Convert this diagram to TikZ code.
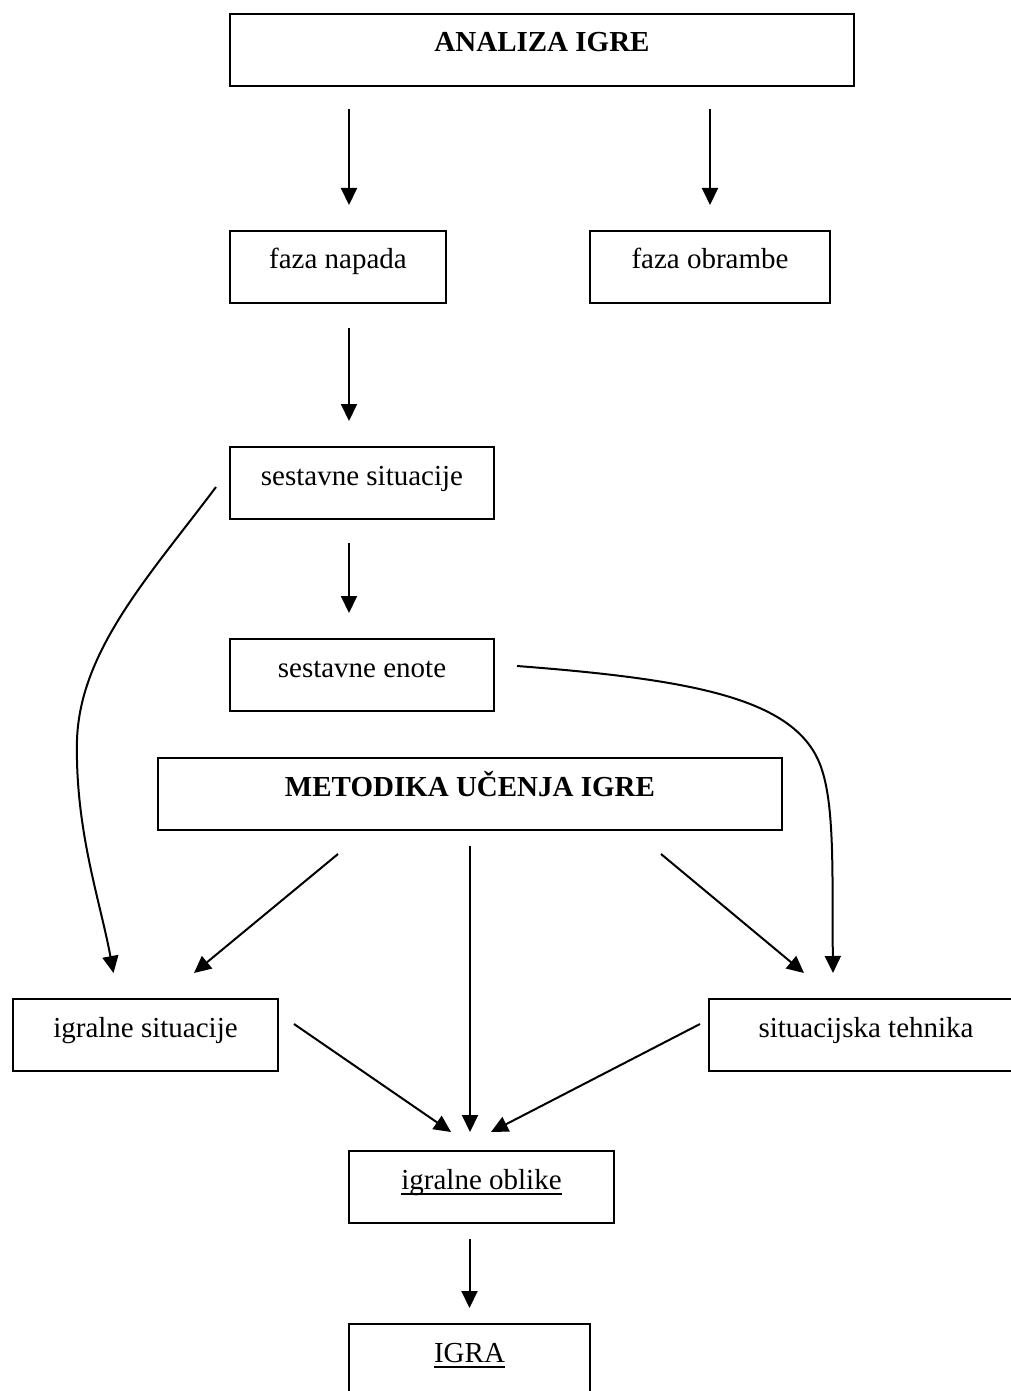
\documentclass[tikz,border=0pt]{standalone}
\usepackage{fontspec}
\setmainfont{Liberation Serif}
\newcommand{\ulword}[1]{\setbox0\hbox{#1}\rlap{\rule[-2.8pt]{\wd0}{0.8pt}}\box0}
\usetikzlibrary{arrows.meta,calc}

\begin{document}
\begin{tikzpicture}[x=0.5pt,y=-0.5pt,
    box/.style={draw,line width=1pt,rectangle,inner xsep=0pt,inner ysep=0pt,
        text height=19pt,text depth=17pt,anchor=north west,
        font=\fontsize{14.5pt}{17pt}\selectfont},
    arr/.style={-{Triangle[length=8.5pt,width=8pt]},line width=1pt}]
    \useasboundingbox (0,0) rectangle (1011,1391);
    \node[box,minimum width=312pt] (ana) at (229,13) {\textbf{ANALIZA IGRE}};
    \node[box,minimum width=108pt] (fn) at (229,230) {faza napada};
    \node[box,minimum width=120pt] (fo) at (589,230) {faza obrambe};
    \node[box,minimum width=132pt] (ss) at (229,446) {sestavne situacije};
    \node[box,minimum width=132pt] (se) at (229,638) {sestavne enote};
    \node[box,minimum width=312pt] (met) at (157,757) {\textbf{METODIKA UČENJA IGRE}};
    \node[box,minimum width=132.5pt] (is) at (12,998) {igralne situacije};
    \node[box,minimum width=157pt] (st) at (708,998) {situacijska tehnika};
    \node[box,minimum width=132.5pt] (io) at (348,1150) {\ulword{igralne oblike}};
    \node[box,minimum width=120.5pt] (ig) at (348,1323) {\ulword{IGRA}};
    \draw[arr] ($(ana.south)+(-193,22)$) -- ($(fn.north)+(11,-25)$);
    \draw[arr] ($(ana.south)+(168,22)$) -- ($(fo.north)+(0,-25)$);
    \draw[arr] ($(fn.south)+(11,24)$) -- ($(ss.north)+(-13,-25)$);
    \draw[arr] ($(ss.south)+(-13,23)$) -- ($(se.north)+(-13,-25)$);
    \draw[arr] ($(ss.west)+(-13,4)$) .. controls (150,575) and (80,650) .. (77,740)
        .. controls (75,830) and (100,900) .. ($(is.north)+(-32,-25)$);
    \draw[arr] ($(se.east)+(22,-9)$) .. controls (700,680) and (800,700) .. (822,770)
        .. controls (835,810) and (832,880) .. ($(st.north)+(-33,-25)$);
    \draw[arr] ($(met.south)+(-132,23)$) -- ($(is.north)+(48.5,-25)$);
    \draw[arr] ($(met.south)+(0,15)$) -- ($(io.north)+(-11.5,-18)$);
    \draw[arr] ($(met.south)+(191,23)$) -- ($(st.north)+(-62,-25)$);
    \draw[arr] ($(is.east)+(15,-11)$) -- ($(io.north)+(-30.5,-18)$);
    \draw[arr] ($(st.west)+(-8,-11)$) -- ($(io.north)+(9.5,-18)$);
    \draw[arr] ($(io.south)+(-12,15)$) -- ($(ig.north)+(0,-15)$);
\end{tikzpicture}
\end{document}
